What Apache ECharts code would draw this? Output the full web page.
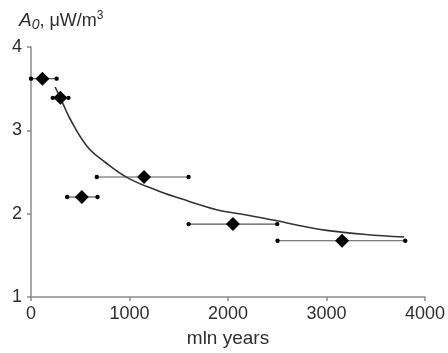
<!DOCTYPE html>
<html><head><meta charset="utf-8">
<script src="https://cdn.jsdelivr.net/npm/echarts@6/dist/echarts.min.js"></script>
<style>html,body{margin:0;padding:0;background:#fff}#c{width:448px;height:353px}</style>
</head><body><div id="c"></div>
<script>
// Measured points (age in mln years, A0 in µW/m³) with horizontal age ranges
const pointAge = [116, 298, 516, 1148, 2050, 3158];
const pointA0  = [3.62, 3.39, 2.20, 2.44, 1.875, 1.675];
const rangeLow = [0, 221, 367, 668, 1600, 2503];
const rangeHigh= [260, 380, 675, 1600, 2500, 3800];
// Fitted curve
const curveAge = [245, 298, 400, 568, 750, 982, 1300, 1600, 1875, 2200, 2470, 2800, 3000, 3400, 3787];
const curveA0  = [3.52, 3.39, 3.13, 2.81, 2.62, 2.43, 2.27, 2.15, 2.05, 1.98, 1.92, 1.84, 1.80, 1.75, 1.72];
const xTicks = [0, 1000, 2000, 3000, 4000];
const yTicks = [1, 2, 3, 4];

const chart = echarts.init(document.getElementById('c'));
const font = 'Liberation Sans, Arial, sans-serif';
const txt = '#2e2e2e';
chart.setOption({
  animation: false,
  backgroundColor: '#fff',
  grid: { left: 31, right: 14, top: 47, bottom: 51 },
  title: {
    text: '{a|A}{s|0}{n|, μW/m}{p|3}',
    left: 14, top: 5,
    textStyle: {
      fontWeight: 'normal',
      rich: {
        a: { fontFamily: font, fontStyle: 'italic', fontWeight: 'normal', fontSize: 19, color: txt },
        s: { fontFamily: font, fontStyle: 'italic', fontWeight: 'normal', fontSize: 14, color: txt, verticalAlign: 'bottom', padding: [8, 0, 0, 0] },
        n: { fontFamily: font, fontWeight: 'normal', fontSize: 18, color: txt },
        p: { fontFamily: font, fontWeight: 'normal', fontSize: 12, color: txt, verticalAlign: 'top', padding: [0, 0, 8, 0] }
      }
    }
  },
  xAxis: {
    type: 'value', min: xTicks[0], max: xTicks[xTicks.length - 1], interval: 1000,
    name: 'mln years', nameLocation: 'middle', nameGap: 32,
    nameTextStyle: { fontFamily: font, fontSize: 19, color: txt },
    axisLine: { lineStyle: { color: '#8a8a8a', width: 1.5 } },
    axisTick: { show: true, length: 4, lineStyle: { color: '#8a8a8a', width: 1.5 } },
    axisLabel: { fontFamily: font, fontSize: 18, color: txt, margin: 8, formatter: v => String(v) },
    splitLine: { show: false }
  },
  yAxis: {
    type: 'value', min: yTicks[0], max: yTicks[yTicks.length - 1], interval: 1,
    axisLine: { show: true, lineStyle: { color: '#8a8a8a', width: 1.5 } },
    axisTick: { show: true, length: 4, lineStyle: { color: '#8a8a8a', width: 1.5 } },
    axisLabel: { fontFamily: font, fontSize: 18, color: txt, margin: 9, formatter: v => String(v) },
    splitLine: { show: false }
  },
  series: [
    {
      type: 'custom',
      data: pointAge.map((x, i) => [rangeLow[i], rangeHigh[i], pointA0[i]]),
      renderItem: function (params, api) {
        const p1 = api.coord([api.value(0), api.value(2)]);
        const p2 = api.coord([api.value(1), api.value(2)]);
        return {
          type: 'group',
          children: [
            { type: 'line', shape: { x1: p1[0], y1: p1[1], x2: p2[0], y2: p2[1] }, style: { stroke: '#555', lineWidth: 1.2 } },
            { type: 'circle', shape: { cx: p1[0], cy: p1[1], r: 2.2 }, style: { fill: '#000' } },
            { type: 'circle', shape: { cx: p2[0], cy: p2[1], r: 2.2 }, style: { fill: '#000' } }
          ]
        };
      },
      z: 2
    },
    {
      type: 'line', smooth: 0.4, symbol: 'none',
      data: curveAge.map((x, i) => [x, curveA0[i]]),
      lineStyle: { color: '#333', width: 1.6 },
      z: 3
    },
    {
      type: 'scatter', symbol: 'diamond', symbolSize: 14,
      data: pointAge.map((x, i) => [x, pointA0[i]]),
      itemStyle: { color: '#000', opacity: 1 },
      z: 4
    }
  ]
});
</script></body></html>
